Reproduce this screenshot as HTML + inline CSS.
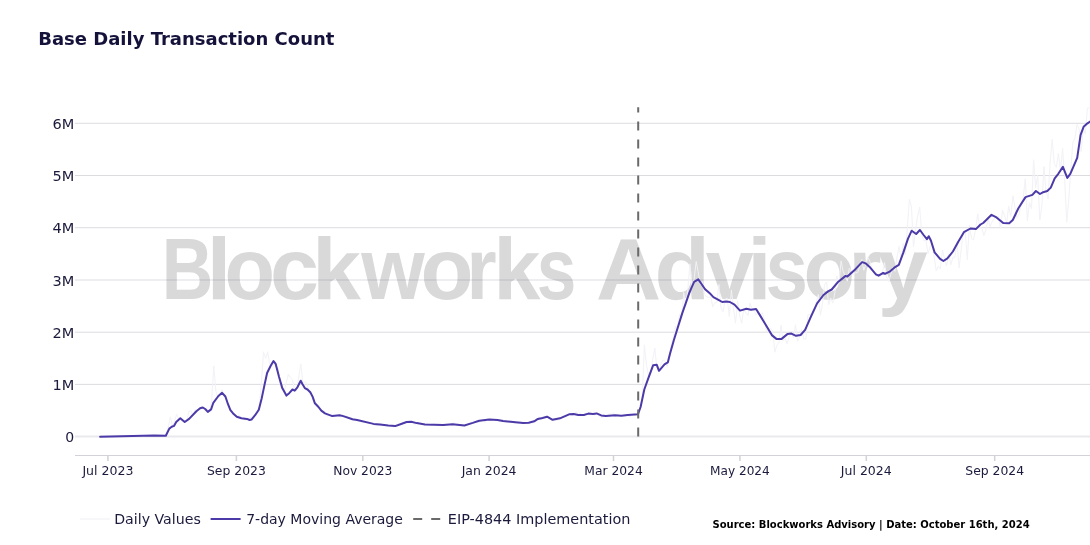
<!DOCTYPE html>
<html lang="en"><head><meta charset="utf-8"><title>Base Daily Transaction Count</title>
<style>
html,body{margin:0;padding:0;background:#fff}
body{width:1090px;height:545px;overflow:hidden}
svg{display:block}
text{font-family:"DejaVu Sans","Verdana",sans-serif;fill:#1b1a3c}
.wm{font-family:"Liberation Sans","Arial",sans-serif;font-weight:700;font-size:88px;fill:#d9d9d9}
.xt{font-size:12px}
.yt{font-size:14px}
.lg{font-size:14px}
.src{font-size:10px;font-weight:700;fill:#000}
.ttl{font-size:18px;font-weight:700;fill:#14123a}
</style></head><body>
<svg width="1090" height="545" viewBox="0 0 1090 545">
<rect width="1090" height="545" fill="#fff"/>
<text class="wm" y="298.5"><tspan x="161.7" textLength="51.5" lengthAdjust="spacingAndGlyphs">B</tspan><tspan x="206.7" textLength="24.5" lengthAdjust="spacingAndGlyphs">l</tspan><tspan x="224.4" textLength="50.5" lengthAdjust="spacingAndGlyphs">o</tspan><tspan x="270.0" textLength="49.0" lengthAdjust="spacingAndGlyphs">c</tspan><tspan x="312.3" textLength="48.6" lengthAdjust="spacingAndGlyphs">k</tspan><tspan x="361.2" textLength="63.5" lengthAdjust="spacingAndGlyphs">w</tspan><tspan x="420.4" textLength="53.0" lengthAdjust="spacingAndGlyphs">o</tspan><tspan x="466.4" textLength="30.1" lengthAdjust="spacingAndGlyphs">r</tspan><tspan x="493.4" textLength="46.9" lengthAdjust="spacingAndGlyphs">k</tspan><tspan x="536.8" textLength="39.6" lengthAdjust="spacingAndGlyphs">s</tspan></text>
<text class="wm" y="298.5"><tspan x="596.1" textLength="65.1" lengthAdjust="spacingAndGlyphs">A</tspan><tspan x="654.6" textLength="55.5" lengthAdjust="spacingAndGlyphs">d</tspan><tspan x="705.7" textLength="48.0" lengthAdjust="spacingAndGlyphs">v</tspan><tspan x="747.6" textLength="23.9" lengthAdjust="spacingAndGlyphs">i</tspan><tspan x="765.6" textLength="42.5" lengthAdjust="spacingAndGlyphs">s</tspan><tspan x="803.6" textLength="51.5" lengthAdjust="spacingAndGlyphs">o</tspan><tspan x="848.6" textLength="33.0" lengthAdjust="spacingAndGlyphs">r</tspan><tspan x="877.7" textLength="49.9" lengthAdjust="spacingAndGlyphs">y</tspan></text>
<rect x="75" y="122.8" width="1015" height="1" fill="#26263e" fill-opacity="0.16"/>
<rect x="75" y="175.0" width="1015" height="1" fill="#26263e" fill-opacity="0.16"/>
<rect x="75" y="227.2" width="1015" height="1" fill="#26263e" fill-opacity="0.16"/>
<rect x="75" y="279.5" width="1015" height="1" fill="#26263e" fill-opacity="0.16"/>
<rect x="75" y="331.7" width="1015" height="1" fill="#26263e" fill-opacity="0.16"/>
<rect x="75" y="383.9" width="1015" height="1" fill="#26263e" fill-opacity="0.16"/>
<rect x="75" y="435.5" width="1015" height="2" fill="#e9e9ee"/>
<rect x="75" y="455" width="1015" height="1" fill="#d2d2d8"/>
<rect x="107.15" y="456" width="1.5" height="5" fill="#d2d2d8"/>
<text class="xt" x="107.9" y="474.5" text-anchor="middle" textLength="51" lengthAdjust="spacingAndGlyphs">Jul 2023</text>
<rect x="235.65" y="456" width="1.5" height="5" fill="#d2d2d8"/>
<text class="xt" x="236.4" y="474.5" text-anchor="middle" textLength="58.8" lengthAdjust="spacingAndGlyphs">Sep 2023</text>
<rect x="362.05" y="456" width="1.5" height="5" fill="#d2d2d8"/>
<text class="xt" x="362.8" y="474.5" text-anchor="middle" textLength="59.2" lengthAdjust="spacingAndGlyphs">Nov 2023</text>
<rect x="488.35" y="456" width="1.5" height="5" fill="#d2d2d8"/>
<text class="xt" x="489.1" y="474.5" text-anchor="middle" textLength="54.8" lengthAdjust="spacingAndGlyphs">Jan 2024</text>
<rect x="612.75" y="456" width="1.5" height="5" fill="#d2d2d8"/>
<text class="xt" x="613.5" y="474.5" text-anchor="middle" textLength="58.5" lengthAdjust="spacingAndGlyphs">Mar 2024</text>
<rect x="739.15" y="456" width="1.5" height="5" fill="#d2d2d8"/>
<text class="xt" x="739.9" y="474.5" text-anchor="middle" textLength="59.8" lengthAdjust="spacingAndGlyphs">May 2024</text>
<rect x="865.55" y="456" width="1.5" height="5" fill="#d2d2d8"/>
<text class="xt" x="866.3" y="474.5" text-anchor="middle" textLength="51" lengthAdjust="spacingAndGlyphs">Jul 2024</text>
<rect x="993.95" y="456" width="1.5" height="5" fill="#d2d2d8"/>
<text class="xt" x="994.7" y="474.5" text-anchor="middle" textLength="58.8" lengthAdjust="spacingAndGlyphs">Sep 2024</text>
<text class="yt" x="74.2" y="128.8" text-anchor="end" textLength="21.8" lengthAdjust="spacingAndGlyphs">6M</text>
<text class="yt" x="74.2" y="181.0" text-anchor="end" textLength="21.8" lengthAdjust="spacingAndGlyphs">5M</text>
<text class="yt" x="74.2" y="233.2" text-anchor="end" textLength="21.8" lengthAdjust="spacingAndGlyphs">4M</text>
<text class="yt" x="74.2" y="285.5" text-anchor="end" textLength="21.8" lengthAdjust="spacingAndGlyphs">3M</text>
<text class="yt" x="74.2" y="337.7" text-anchor="end" textLength="21.8" lengthAdjust="spacingAndGlyphs">2M</text>
<text class="yt" x="74.2" y="389.9" text-anchor="end" textLength="21.8" lengthAdjust="spacingAndGlyphs">1M</text>
<text class="yt" x="74.2" y="441.9" text-anchor="end">0</text>
<path d="M100.0,436.6 L102.1,436.6 L104.1,436.6 L106.2,436.6 L108.3,436.5 L110.3,436.5 L112.4,436.4 L114.5,436.4 L116.6,436.3 L118.6,436.3 L120.7,436.2 L122.8,436.2 L124.8,436.1 L126.9,436.1 L129.0,436.0 L131.0,436.0 L133.1,435.8 L135.2,435.8 L137.3,435.8 L139.3,435.7 L141.4,435.7 L143.5,435.7 L145.5,435.6 L147.6,435.5 L149.7,435.5 L151.7,435.5 L153.8,435.4 L155.9,435.6 L158.0,435.6 L160.0,435.7 L162.1,435.6 L164.2,435.7 L166.2,434.8 L168.3,427.2 L170.4,416.8 L172.4,425.8 L174.5,421.7 L176.6,414.0 L178.7,419.0 L180.7,419.9 L182.8,419.7 L184.9,422.1 L186.9,420.6 L189.0,411.0 L191.1,410.9 L193.1,416.1 L195.2,409.8 L197.3,410.0 L199.4,408.7 L201.4,406.6 L203.5,408.7 L205.6,409.3 L207.6,409.7 L209.7,411.5 L211.8,398.9 L213.8,365.9 L215.9,391.5 L218.0,397.1 L220.1,394.8 L222.1,389.7 L224.2,396.6 L226.3,397.8 L228.3,404.2 L230.4,408.3 L232.5,411.4 L234.5,414.1 L236.6,418.0 L238.7,415.2 L240.8,416.6 L242.8,418.7 L244.9,420.1 L247.0,419.5 L249.0,418.0 L251.1,417.3 L253.2,417.9 L255.2,414.1 L257.3,410.3 L259.4,406.1 L261.5,380.7 L263.5,351.9 L265.6,358.4 L267.7,351.9 L269.7,364.2 L271.8,365.8 L273.9,363.7 L275.9,367.0 L278.0,367.4 L280.1,384.4 L282.2,390.2 L284.2,392.4 L286.3,382.2 L288.4,374.4 L290.4,377.6 L292.5,379.6 L294.6,390.0 L296.6,390.9 L298.7,377.1 L300.8,363.9 L302.9,383.5 L304.9,381.7 L307.0,383.7 L309.1,392.5 L311.1,394.2 L313.2,400.8 L315.3,402.5 L317.3,405.1 L319.4,409.8 L321.5,410.8 L323.6,411.1 L325.6,414.8 L327.7,416.2 L329.8,414.6 L331.8,414.4 L333.9,415.7 L336.0,415.5 L338.0,415.0 L340.1,417.0 L342.2,414.7 L344.3,417.8 L346.3,415.8 L348.4,417.1 L350.5,419.2 L352.5,420.4 L354.6,420.4 L356.7,420.3 L358.7,420.5 L360.8,421.0 L362.9,421.9 L365.0,421.7 L367.0,422.6 L369.1,423.3 L371.2,423.3 L373.2,424.4 L375.3,424.4 L377.4,425.6 L379.4,424.6 L381.5,424.3 L383.6,424.6 L385.7,425.1 L387.7,426.0 L389.8,425.4 L391.9,426.0 L393.9,427.1 L396.0,424.3 L398.1,424.4 L400.1,424.5 L402.2,423.9 L404.3,423.0 L406.4,421.7 L408.4,422.4 L410.5,422.1 L412.6,421.7 L414.6,424.5 L416.7,423.4 L418.8,423.1 L420.8,423.8 L422.9,424.1 L425.0,424.6 L427.1,422.9 L429.1,424.4 L431.2,425.4 L433.3,424.0 L435.3,424.8 L437.4,425.5 L439.5,425.5 L441.5,425.9 L443.6,423.9 L445.7,424.6 L447.8,424.4 L449.8,424.8 L451.9,425.0 L454.0,422.6 L456.0,425.3 L458.1,423.9 L460.2,425.5 L462.2,424.3 L464.3,425.6 L466.4,425.6 L468.5,424.1 L470.5,423.7 L472.6,423.5 L474.7,422.3 L476.7,421.5 L478.8,422.2 L480.9,421.4 L482.9,420.0 L485.0,422.5 L487.1,418.6 L489.2,420.3 L491.2,419.3 L493.3,419.8 L495.4,420.5 L497.4,420.2 L499.5,421.0 L501.6,419.5 L503.6,419.9 L505.7,421.9 L507.8,420.8 L509.9,420.9 L511.9,420.8 L514.0,423.2 L516.1,423.0 L518.1,423.7 L520.2,422.1 L522.3,423.0 L524.3,422.2 L526.4,423.5 L528.5,424.0 L530.6,421.6 L532.6,423.0 L534.7,421.8 L536.8,419.5 L538.8,416.8 L540.9,419.7 L543.0,417.8 L545.0,416.6 L547.1,417.1 L549.2,418.3 L551.3,420.5 L553.3,418.7 L555.4,420.3 L557.5,420.3 L559.5,419.8 L561.6,417.4 L563.7,415.8 L565.7,416.9 L567.8,415.0 L569.9,414.4 L572.0,415.9 L574.0,413.8 L576.1,411.7 L578.2,414.4 L580.2,412.7 L582.3,415.9 L584.4,415.2 L586.5,413.4 L588.5,413.6 L590.6,414.8 L592.7,414.0 L594.7,415.3 L596.8,413.4 L598.9,415.7 L600.9,417.0 L603.0,417.5 L605.1,415.2 L607.2,417.0 L609.2,413.6 L611.3,414.3 L613.4,413.1 L615.4,416.5 L617.5,414.0 L619.6,415.6 L621.6,415.5 L623.7,415.4 L625.8,414.5 L627.9,415.2 L629.9,416.9 L632.0,414.7 L634.1,415.2 L636.1,415.6 L638.2,413.2 L640.3,405.9 L642.3,397.2 L644.4,344.9 L646.5,365.5 L648.6,375.7 L650.6,375.5 L652.7,359.2 L654.8,348.1 L656.8,367.4 L658.9,371.1 L661.0,364.1 L663.0,360.0 L665.1,361.5 L667.2,366.5 L669.3,354.2 L671.3,344.8 L673.4,337.8 L675.5,326.4 L677.5,327.7 L679.6,314.3 L681.7,317.5 L683.7,292.4 L685.8,305.2 L687.9,288.2 L690.0,263.8 L692.0,288.2 L694.1,279.3 L696.2,261.5 L698.2,271.9 L700.3,284.7 L702.4,281.4 L704.4,294.6 L706.5,296.5 L708.6,297.6 L710.7,296.7 L712.7,306.7 L714.8,303.0 L716.9,302.4 L718.9,284.5 L721.0,308.0 L723.1,311.6 L725.1,299.4 L727.2,298.2 L729.3,316.3 L731.4,289.9 L733.4,307.4 L735.5,323.1 L737.6,301.4 L739.6,315.0 L741.7,323.2 L743.8,308.7 L745.8,312.9 L747.9,315.4 L750.0,303.2 L752.1,308.9 L754.1,311.3 L756.2,314.9 L758.3,312.3 L760.3,314.6 L762.4,312.7 L764.5,320.4 L766.5,331.5 L768.6,330.2 L770.7,328.2 L772.8,331.3 L774.8,352.1 L776.9,345.2 L779.0,342.5 L781.0,325.2 L783.1,341.0 L785.2,338.6 L787.2,343.8 L789.3,336.2 L791.4,333.2 L793.5,337.5 L795.5,324.8 L797.6,341.3 L799.7,337.0 L801.7,329.7 L803.8,339.0 L805.9,339.0 L807.9,314.8 L810.0,314.5 L812.1,316.1 L814.2,311.0 L816.2,302.3 L818.3,294.5 L820.4,315.1 L822.4,304.4 L824.5,284.9 L826.6,281.9 L828.6,304.7 L830.7,298.0 L832.8,303.1 L834.9,292.5 L836.9,276.0 L839.0,283.4 L841.1,260.8 L843.1,271.3 L845.2,275.7 L847.3,281.2 L849.3,268.3 L851.4,271.8 L853.5,275.1 L855.6,272.5 L857.6,272.8 L859.7,266.6 L861.8,259.4 L863.8,270.3 L865.9,264.0 L868.0,257.6 L870.0,261.6 L872.1,269.9 L874.2,271.4 L876.3,276.0 L878.3,275.6 L880.4,276.2 L882.5,272.1 L884.5,262.4 L886.6,276.9 L888.7,281.7 L890.7,274.7 L892.8,267.3 L894.9,271.4 L897.0,256.9 L899.0,246.3 L901.1,259.3 L903.2,243.7 L905.2,254.6 L907.3,228.6 L909.4,199.4 L911.4,206.2 L913.5,246.9 L915.6,229.2 L917.7,215.8 L919.7,207.0 L921.8,234.8 L923.9,240.8 L925.9,239.9 L928.0,253.6 L930.1,246.6 L932.1,244.3 L934.2,257.2 L936.3,270.9 L938.4,266.4 L940.4,269.0 L942.5,249.9 L944.6,258.8 L946.6,266.0 L948.7,253.8 L950.8,264.9 L952.8,257.6 L954.9,257.2 L957.0,241.8 L959.1,267.8 L961.1,250.5 L963.2,231.0 L965.3,232.4 L967.3,259.7 L969.4,225.2 L971.5,238.6 L973.5,240.0 L975.6,229.1 L977.7,213.9 L979.8,227.4 L981.8,228.0 L983.9,235.6 L986.0,229.6 L988.0,218.5 L990.1,226.5 L992.2,221.7 L994.2,218.7 L996.3,218.0 L998.4,216.1 L1000.5,228.9 L1002.5,210.1 L1004.6,215.7 L1006.7,223.2 L1008.7,206.0 L1010.8,216.6 L1012.9,195.9 L1014.9,207.2 L1017.0,218.2 L1019.1,214.3 L1021.2,203.2 L1023.2,197.7 L1025.3,178.8 L1027.4,220.6 L1029.4,202.7 L1031.5,208.7 L1033.6,159.8 L1035.6,187.6 L1037.7,175.4 L1039.8,220.0 L1041.9,205.6 L1043.9,166.5 L1046.0,190.7 L1048.1,198.8 L1050.1,162.4 L1052.2,139.5 L1054.3,163.8 L1056.3,167.3 L1058.4,153.3 L1060.5,170.7 L1062.6,148.5 L1064.6,177.6 L1066.7,222.1 L1068.8,199.7 L1070.8,168.7 L1072.9,142.5 L1075.0,137.9 L1077.0,124.6 L1079.1,128.9 L1081.2,151.5 L1083.3,128.4 L1085.3,133.7 L1087.4,108.0 L1089.5,108.0" fill="none" stroke="#f2f2f7" stroke-width="1" stroke-linejoin="round"/>
<path d="M100.1,436.7 L154.2,435.4 L165.8,435.8 L169.3,428.6 L171.7,426.8 L174.0,425.9 L176.2,422.0 L180.3,418.3 L184.7,422.0 L189.1,418.9 L196.4,411.2 L200.1,408.3 L202.8,407.5 L205.2,409.0 L207.8,411.9 L211.1,409.4 L213.3,402.8 L218.4,396.0 L222.1,392.8 L225.4,396.5 L228.0,404.2 L230.4,410.1 L233.1,413.4 L236.8,416.7 L241.4,418.3 L246.9,418.9 L249.6,420.0 L251.5,419.6 L255.1,415.2 L258.8,409.7 L261.6,398.7 L264.3,385.9 L267.1,373.0 L270.7,365.7 L273.5,361.1 L275.7,363.9 L279.0,376.7 L282.3,388.1 L286.4,395.6 L289.2,393.2 L292.5,389.5 L294.7,390.6 L297.4,387.3 L300.7,380.7 L302.4,384.0 L304.8,388.1 L307.5,389.5 L310.3,392.3 L312.7,396.9 L314.9,403.3 L318.5,407.0 L321.3,410.6 L325.0,413.4 L332.3,416.1 L339.6,415.2 L343.3,416.1 L352.5,419.3 L357.1,420.0 L373.6,423.9 L380.0,424.4 L388.3,425.5 L395.2,426.1 L401.1,424.0 L406.6,422.0 L411.2,421.8 L416.7,423.1 L425.0,424.6 L443.3,425.0 L452.5,424.2 L464.4,425.5 L472.7,422.9 L479.2,420.7 L489.3,419.4 L497.5,420.0 L503.0,421.1 L523.2,423.1 L528.7,422.8 L534.2,421.3 L537.9,418.9 L542.5,418.0 L547.1,416.7 L552.6,419.8 L559.9,418.3 L569.1,414.3 L573.7,414.1 L578.3,414.9 L583.8,415.0 L588.3,413.6 L592.9,413.9 L596.6,413.4 L601.2,415.4 L605.8,416.1 L615.0,415.2 L621.4,415.8 L627.8,414.9 L637.9,414.3 L640.6,407.0 L644.3,389.5 L648.9,376.7 L653.1,365.3 L656.8,364.8 L659.0,370.8 L664.5,364.4 L667.8,362.4 L670.0,353.8 L673.9,340.0 L682.2,313.4 L689.5,292.3 L694.1,281.8 L698.3,279.4 L701.5,284.0 L705.1,289.2 L710.6,294.1 L713.4,297.2 L718.0,299.6 L722.2,302.0 L726.2,301.5 L729.9,302.0 L734.5,304.6 L740.0,310.6 L746.4,308.8 L751.0,309.7 L756.1,309.0 L761.1,317.1 L766.6,326.2 L772.1,335.4 L776.7,339.1 L781.3,339.1 L787.7,333.9 L791.4,333.6 L796.0,335.8 L800.6,335.0 L805.1,329.9 L811.6,315.2 L817.1,303.3 L823.5,295.0 L828.1,291.4 L831.7,289.5 L838.3,281.7 L845.6,275.9 L847.4,276.6 L855.7,268.9 L862.1,262.1 L865.8,263.4 L869.4,266.7 L875.9,274.4 L878.6,275.7 L883.2,272.9 L885.0,273.9 L889.6,271.7 L895.1,267.1 L898.8,264.9 L903.4,252.4 L908.0,238.6 L911.7,230.7 L916.2,234.0 L919.9,230.0 L923.6,235.0 L926.9,239.2 L928.7,236.2 L930.9,240.5 L934.6,252.4 L940.1,258.8 L943.4,261.0 L947.4,258.4 L952.9,251.5 L958.4,241.4 L963.9,232.2 L970.4,228.5 L975.9,229.1 L980.5,224.5 L983.2,223.0 L991.5,214.8 L996.5,217.4 L1003.2,223.1 L1009.2,223.2 L1012.8,220.0 L1018.4,208.2 L1025.5,197.1 L1032.4,194.9 L1035.9,191.0 L1040.0,194.0 L1043.2,192.2 L1047.3,191.0 L1050.8,187.6 L1054.7,178.4 L1058.3,173.8 L1062.9,166.9 L1067.3,177.9 L1070.3,173.8 L1077.2,157.8 L1080.6,134.8 L1083.6,126.8 L1087.5,123.3 L1091.0,121.0" fill="none" stroke="#4b3aa8" stroke-width="2" stroke-linejoin="round" stroke-linecap="round"/>
<path d="M638.2,436.5 L638.2,107.3" stroke="#6a6a6a" stroke-width="2" stroke-dasharray="9,9" fill="none"/>
<path d="M80,519 H110" stroke="#efeff5" stroke-width="1"/>
<text class="lg" x="114.2" y="523.6" textLength="86.6" lengthAdjust="spacingAndGlyphs">Daily Values</text>
<path d="M210.6,519 H240.6" stroke="#4b3aa8" stroke-width="2"/>
<text class="lg" x="246.2" y="523.6">7-day Moving Average</text>
<path d="M413.2,519 H443.2" stroke="#6a6a6a" stroke-width="2" stroke-dasharray="9,9"/>
<text class="lg" x="447.8" y="523.6" textLength="182.6" lengthAdjust="spacingAndGlyphs">EIP-4844 Implementation</text>
<text class="src" x="712.5" y="528.1">Source: Blockworks Advisory | Date: October 16th, 2024</text>
<text class="ttl" x="38.2" y="44.9">Base Daily Transaction Count</text>
</svg>
</body></html>
